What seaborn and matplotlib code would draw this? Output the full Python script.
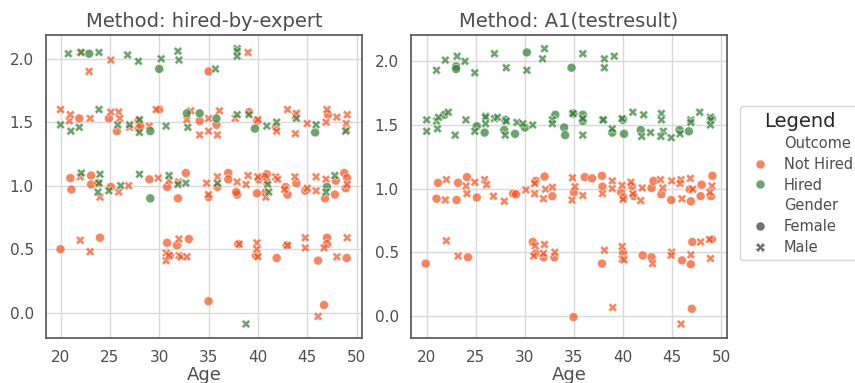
import numpy as np
import pandas as pd
import matplotlib
matplotlib.use("Agg")
import matplotlib.pyplot as plt
import seaborn as sns

# -------------------------------------------------
# Data (Age, score)
# -------------------------------------------------

methods = ["hired-by-expert", "A1(testresult)"]
outcome_order = ["Not Hired", "Hired"]
gender_order = ["Female", "Male"]

# --- Method: hired-by-expert ---
exp_nh_f_age = [35.0, 21.9, 24.9, 25.7, 27.9, 27.9, 28.1, 30.0, 34.1, 35.8, 39.1, 39.9, 41.8, 47.1,
                21.0, 21.1, 23.1, 23.1, 23.8, 25.1, 29.0, 30.8, 31.9, 32.7, 35.0, 35.9, 37.0, 37.0,
                37.9, 37.8, 39.9, 40.1, 40.9, 40.7, 40.8, 42.8, 43.0, 43.9, 44.8, 46.8, 47.9, 47.8,
                48.75, 49.05, 48.9,
                20.0, 24.0, 30.8, 31.1, 31.8, 33.0, 35.0, 38.0, 39.8, 41.9, 42.9, 46.1, 46.7, 47.0,
                47.0, 49.0]
exp_nh_f_val = [1.90, 1.53, 1.53, 1.43, 1.51, 1.45, 1.47, 1.60, 1.51, 1.48, 1.58, 1.51, 1.46, 1.56,
                1.06, 0.97, 1.08, 1.01, 1.02, 0.99, 1.05, 0.99, 0.90, 1.10, 0.91, 0.99, 1.10, 1.05,
                0.93, 0.95, 0.94, 1.05, 1.09, 1.07, 0.95, 0.99, 0.93, 1.02, 0.96, 0.90, 1.04, 0.93,
                1.10, 1.06, 0.98,
                0.50, 0.59, 0.55, 0.45, 0.53, 0.58, 0.09, 0.54, 0.45, 0.43, 0.53, 0.41, 0.06, 0.59,
                0.54, 0.43]

exp_nh_m_age = [22.0, 22.9, 25.1, 39.0,
                20.0, 20.9, 21.0, 23.0, 25.1, 25.9, 26.0, 27.0, 29.0, 29.7, 32.8, 33.2, 34.1, 35.0,
                35.0, 35.9, 36.1, 37.7, 40.0, 41.9, 43.0, 43.8, 43.9, 43.8, 45.0, 46.9, 47.0, 48.0,
                48.95, 49.05, 49.0,
                22.0, 24.0, 25.9, 26.9, 29.9, 31.0, 31.96, 34.8, 35.0, 35.9, 37.9, 39.0, 38.8, 40.0,
                40.9, 40.8, 41.8, 42.0, 42.7, 43.75, 45.0, 45.9, 45.9, 46.9, 49.05,
                22.0, 23.0, 30.7, 30.7, 31.0, 32.0, 32.0, 32.2, 32.8, 38.1, 39.9, 39.9, 40.0, 43.0,
                44.8, 44.8, 46.1, 46.7, 48.0, 49.05]
exp_nh_m_val = [2.05, 1.90, 1.99, 2.05,
                1.60, 1.51, 1.56, 1.53, 1.58, 1.58, 1.53, 1.46, 1.47, 1.60, 1.52, 1.59, 1.40, 1.53,
                1.43, 1.40, 1.59, 1.53, 1.52, 1.43, 1.60, 1.55, 1.57, 1.41, 1.49, 1.50, 1.60, 1.54,
                1.49, 1.56, 1.44,
                1.07, 0.91, 0.95, 1.00, 1.06, 1.04, 1.03, 1.02, 0.93, 1.07, 1.03, 1.08, 1.01, 1.07,
                1.03, 0.91, 1.07, 1.05, 0.97, 1.07, 0.98, 1.07, 0.96, 1.05, 1.01,
                0.57, 0.48, 0.47, 0.41, 0.45, 0.58, 0.45, 0.44, 0.44, 0.54, 0.55, 0.50, 0.44, 0.53,
                0.59, 0.51, -0.03, 0.51, 0.44, 0.59]

exp_h_f_age = [22.9, 30.0, 29.1, 32.8, 34.1, 35.8, 39.7, 45.8, 29.1, 47.0]
exp_h_f_val = [2.04, 1.92, 1.43, 1.57, 1.57, 1.53, 1.45, 1.42, 0.90, 0.99]

exp_h_m_age = [20.8, 22.1, 23.9, 26.8, 27.9, 30.2, 31.9, 32.0, 35.7, 37.9, 37.9, 37.9,
               20.0, 21.05, 21.9, 23.9, 25.8, 27.0, 28.0, 28.0, 30.7, 32.9, 37.9, 39.1, 40.9,
               41.9, 43.9, 45.9, 48.9,
               22.1, 24.0, 23.9, 23.8, 24.9, 26.1, 28.0, 31.0, 31.9, 32.7, 35.9, 41.0, 41.1,
               46.9, 47.8,
               38.8]
exp_h_m_val = [2.04, 2.05, 2.05, 2.03, 1.98, 2.00, 2.06, 1.99, 1.92, 2.08, 2.06, 2.02,
               1.48, 1.43, 1.46, 1.60, 1.48, 1.48, 1.52, 1.42, 1.47, 1.46, 1.56, 1.56, 1.47,
               1.50, 1.53, 1.48, 1.43,
               1.10, 1.09, 1.02, 0.95, 0.96, 1.00, 1.09, 1.08, 1.01, 1.02, 1.02, 1.01, 0.95,
               0.95, 1.08,
               -0.09]

# --- Method: A1(testresult) ---
a1_h_f_age = [23.0, 23.0, 30.2, 34.75,
              21.8, 25.1, 25.9, 28.0, 27.9, 29.0, 30.0, 33.1, 34.0, 34.1, 34.95, 35.9, 35.9,
              38.9, 40.0, 40.1, 41.8, 45.75, 46.7, 49.05]
a1_h_f_val = [1.96, 1.94, 2.07, 1.95,
              1.58, 1.49, 1.44, 1.54, 1.46, 1.43, 1.48, 1.58, 1.48, 1.42, 1.59, 1.58, 1.53,
              1.44, 1.54, 1.43, 1.46, 1.46, 1.45, 1.55]

a1_h_m_age = [21.0, 21.9, 23.1, 23.9, 24.9, 26.9, 28.1, 30.2, 31.8, 32.0, 35.9, 38.1, 38.1, 39.1,
              20.0, 20.0, 21.0, 21.1, 21.2, 22.2, 22.9, 24.0, 24.9, 26.0, 26.0, 26.0, 26.9, 27.2,
              28.1, 28.0, 29.2, 29.8, 30.8, 32.8, 32.8, 34.9, 35.9, 35.9, 37.9, 38.0, 38.9, 39.9,
              41.0, 42.1, 41.9, 42.8, 43.9, 43.9, 44.1, 43.85, 44.9, 45.8, 46.9, 46.9, 47.8, 48.9,
              48.95, 48.9]
a1_h_m_val = [1.93, 2.01, 2.04, 2.00, 1.91, 2.06, 1.95, 1.93, 2.02, 2.10, 2.06, 2.02, 1.95, 2.04,
              1.54, 1.45, 1.53, 1.47, 1.56, 1.60, 1.42, 1.54, 1.45, 1.57, 1.56, 1.51, 1.55, 1.56,
              1.53, 1.42, 1.52, 1.51, 1.50, 1.54, 1.51, 1.59, 1.42, 1.55, 1.54, 1.54, 1.47, 1.55,
              1.60, 1.58, 1.41, 1.44, 1.59, 1.54, 1.45, 1.41, 1.40, 1.43, 1.54, 1.52, 1.60, 1.56,
              1.54, 1.50]

a1_nh_f_age = [21.15, 21.0, 23.05, 23.2, 24.1, 25.1, 28.8, 29.1, 31.1, 32.0, 32.8, 35.0, 36.1,
               36.85, 37.85, 37.9, 39.8, 40.05, 40.9, 41.1, 42.9, 43.1, 43.9, 44.9, 46.8, 46.9,
               48.0, 47.9, 49.1, 48.95,
               19.9, 24.2, 30.8, 31.1, 31.9, 33.0, 34.95, 37.85, 40.0, 42.0, 42.9, 46.0, 47.0,
               47.05, 46.9, 49.05]
a1_nh_f_val = [1.045, 0.92, 0.91, 1.045, 1.09, 0.93, 0.96, 0.955, 1.06, 1.095, 0.94, 0.97, 1.09,
               1.08, 1.10, 1.015, 0.97, 0.93, 1.02, 0.94, 1.005, 1.06, 0.955, 0.91, 0.995, 0.90,
               1.03, 0.94, 1.10, 0.94,
               0.41, 0.46, 0.58, 0.49, 0.46, 0.46, -0.01, 0.41, 0.495, 0.475, 0.46, 0.435, 0.055,
               0.58, 0.405, 0.60]

a1_nh_m_age = [22.0, 21.9, 24.0, 24.1, 24.9, 25.9, 26.1, 26.8, 27.9, 30.1, 31.0, 31.0, 31.9,
               32.1, 32.8, 34.85, 34.8, 35.1, 35.9, 37.9, 38.9, 38.9, 39.9, 40.0, 40.8, 41.0,
               41.95, 41.8, 43.8, 44.05, 44.95, 45.9, 45.8, 46.0, 46.85, 47.1, 49.05, 48.85,
               22.0, 23.2, 31.05, 30.9, 32.0, 31.9, 33.05, 38.1, 38.95, 39.9, 39.9, 40.1, 43.0,
               44.95, 44.9, 45.9, 46.9, 47.9, 48.8, 48.9]
a1_nh_m_val = [1.07, 0.91, 1.02, 0.96, 1.05, 1.07, 1.03, 0.94, 0.90, 0.99, 0.96, 1.04, 0.92,
               0.995, 1.01, 1.085, 0.91, 1.015, 0.945, 0.96, 1.06, 1.00, 1.025, 0.915, 1.05, 0.96,
               1.005, 0.905, 1.07, 1.005, 1.06, 1.07, 1.04, 0.92, 1.08, 0.995, 1.02, 0.97,
               0.59, 0.47, 0.55, 0.47, 0.56, 0.49, 0.50, 0.515, 0.065, 0.545, 0.445, 0.44, 0.41,
               0.50, 0.475, -0.065, 0.48, 0.58, 0.60, 0.45]


# -------------------------------------------------
# Build long table
# -------------------------------------------------

groups = [
    (methods[0], "Not Hired", "Female", exp_nh_f_age, exp_nh_f_val),
    (methods[0], "Not Hired", "Male", exp_nh_m_age, exp_nh_m_val),
    (methods[0], "Hired", "Female", exp_h_f_age, exp_h_f_val),
    (methods[0], "Hired", "Male", exp_h_m_age, exp_h_m_val),
    (methods[1], "Not Hired", "Female", a1_nh_f_age, a1_nh_f_val),
    (methods[1], "Not Hired", "Male", a1_nh_m_age, a1_nh_m_val),
    (methods[1], "Hired", "Female", a1_h_f_age, a1_h_f_val),
    (methods[1], "Hired", "Male", a1_h_m_age, a1_h_m_val),
]

frames = []
for method, outcome, gender, ages, vals in groups:
    frames.append(pd.DataFrame({
        "Method": method,
        "Outcome": outcome,
        "Gender": gender,
        "Age": ages,
        "Score": vals,
    }))
df = pd.concat(frames, ignore_index=True)


# -------------------------------------------------
# Plot
# -------------------------------------------------

sns.set_theme(style="whitegrid", rc={"axes.edgecolor": ".35", "grid.color": ".85"})

palette = {"Not Hired": "#f4511e", "Hired": "#2e7d32"}

fig, axes = plt.subplots(1, 2, figsize=(8.55, 3.83), dpi=100)
fig.subplots_adjust(left=0.054, right=0.850, bottom=0.118, top=0.909, wspace=0.158)

for ax, method in zip(axes, methods):
    sns.scatterplot(
        data=df[df["Method"] == method],
        x="Age", y="Score",
        hue="Outcome", hue_order=outcome_order,
        style="Gender", style_order=gender_order,
        palette=palette, alpha=0.7, s=42,
        ax=ax, legend=(method == methods[1]),
    )
    ax.set_title(f"Method: {method}", fontsize=14, color=".3")
    ax.set_xlabel("Age", fontsize=13, color=".3", labelpad=0.5)
    ax.set_ylabel("")
    ax.set_xticks([20, 25, 30, 35, 40, 45, 50])
    ax.set_yticks([0.0, 0.5, 1.0, 1.5, 2.0])
    ax.tick_params(labelsize=11, colors=".3", pad=3)

handles, labels = axes[1].get_legend_handles_labels()
axes[1].get_legend().remove()
leg = fig.legend(handles, labels, title="Legend", loc="center left",
                 bbox_to_anchor=(0.857, 0.522), fontsize=10.5, title_fontsize=14,
                 labelspacing=0.39, handletextpad=0.6, frameon=True)
for t in leg.get_texts():
    t.set_color(".3")

fig.savefig("out.png", dpi=100)
